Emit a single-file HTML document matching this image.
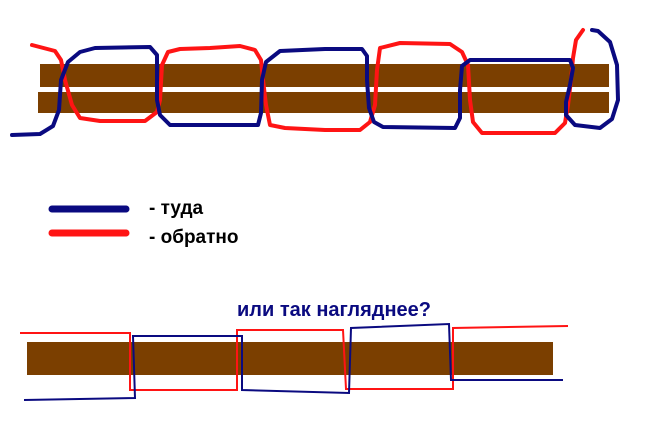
<!DOCTYPE html>
<html><head><meta charset="utf-8"><style>
body{margin:0;background:#fff;}
svg{display:block;}
text{font-family:"Liberation Sans",sans-serif;font-weight:bold;}
</style></head><body>
<svg width="650" height="442" viewBox="0 0 650 442" xmlns="http://www.w3.org/2000/svg">
<rect x="40" y="64" width="569" height="23" fill="#7b3f00"/>
<rect x="38" y="92" width="571" height="21" fill="#7b3f00"/>
<g fill="none" stroke-width="4" stroke-linejoin="round" stroke-linecap="round">
<polyline stroke="#ff1414" points="32,45 55,51 61,60 65,80 72,105 80,118 100,121 145,121 157,112 160,100 162,65 168,52 180,49 210,48 240,46 255,50 261,60 263,80 266,105 270,125 285,128 325,130 360,130 370,122 375,105 377,70 380,48 400,43 450,44 462,52 468,65 470,100 473,122 482,133 555,133 565,123 568,105 571,80 573,58 576,40 583,30"/>
<polyline stroke="#0a0a80" points="12,135 40,134 53,126 59,110 61,80 68,62 80,52 95,48 150,47 157,55 157,100 160,115 170,125 258,125 261,113 262,80 266,62 280,51 325,49 362,49 367,56 367,80 369,108 374,122 383,127 455,128 460,118 460,90 462,66 470,60 570,60 573,68 570,85 566,102 566,115 575,125 600,128 612,119 618,100 617,65 610,42 598,31 592,30"/>
</g>
<line x1="52" y1="209" x2="126" y2="209" stroke="#0a0a80" stroke-width="7" stroke-linecap="round"/>
<line x1="52" y1="233" x2="126" y2="233" stroke="#ff1414" stroke-width="7" stroke-linecap="round"/>
<text x="149" y="214" font-size="19" fill="#000">- туда</text>
<text x="149" y="243" font-size="19" fill="#000">- обратно</text>
<text x="237" y="316" font-size="20" fill="#0a0a80">или так нагляднее?</text>
<rect x="27" y="342" width="526" height="33" fill="#7b3f00"/>
<g fill="none" stroke-width="2">
<polyline stroke="#ff1414" points="20,333 130,333 130,390 237,390 237,330 343,330 346,389 453,389 453,328 568,326"/>
<polyline stroke="#0a0a80" points="24,400 135,398 133,336 242,336 242,390 349,393 351,328 449,324 451,380 563,380"/>
</g>
</svg>
</body></html>
